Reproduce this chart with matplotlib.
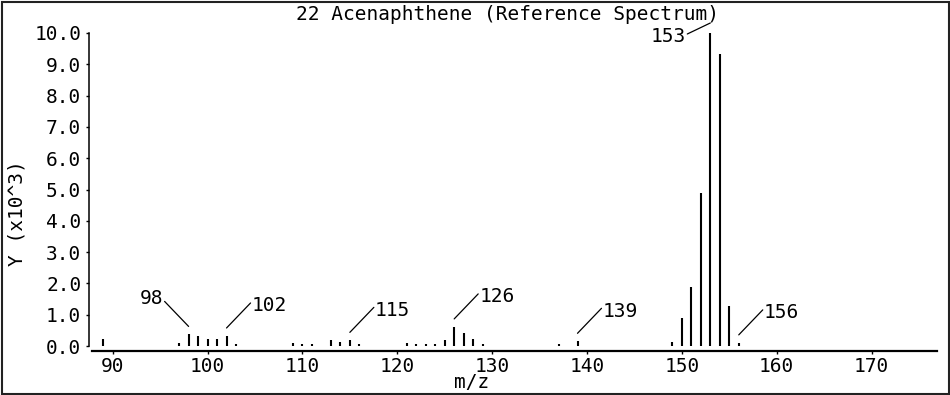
import matplotlib
matplotlib.use("Agg")
import matplotlib.pyplot as plt
from matplotlib.transforms import offset_copy
from matplotlib.patches import Rectangle

# ---- data (intensity in units of 10^3) ----
mz = [89, 97, 98, 99, 100, 101, 102, 103,
      109, 110, 111, 113, 114, 115, 116,
      121, 122, 123, 124, 125, 126, 127, 128, 129,
      137, 139,
      149, 150, 151, 152, 153, 154, 155, 156]
intensity = [0.22, 0.10, 0.37, 0.32, 0.21, 0.21, 0.32, 0.06,
             0.08, 0.07, 0.07, 0.18, 0.13, 0.18, 0.06,
             0.08, 0.07, 0.05, 0.06, 0.18, 0.61, 0.40, 0.23, 0.05,
             0.06, 0.15,
             0.12, 0.91, 1.89, 4.88, 10.0, 9.32, 1.28, 0.10]
labeled_mz = [98, 102, 115, 126, 139, 153, 156]
x_ticks = [90, 100, 110, 120, 130, 140, 150, 160, 170]
y_ticks = [0, 1, 2, 3, 4, 5, 6, 7, 8, 9, 10]
title = "22 Acenaphthene (Reference Spectrum)"
xlabel = "m/z"
ylabel = "Y (x10^3)"

FONT = "DejaVu Sans Mono"
FS = 14
W, H = 950, 395

fig = plt.figure(figsize=(W / 100, H / 100), dpi=100)
fig.patch.set_facecolor("white")
ax = fig.add_axes([89 / W, (H - 346) / H, (937 - 89) / W, (346 - 33) / H])

ax.vlines(mz, 0, intensity, colors="black", linewidth=1.5)

ax.set_xlim(87.5, 176.9)
ax.set_ylim(0, 10)

for s in ("top", "right"):
    ax.spines[s].set_visible(False)
ax.spines["left"].set_linewidth(1.1)
ax.spines["left"].set_bounds(0, 10)
ax.spines["bottom"].set_linewidth(1.6)
ax.spines["bottom"].set_position(("outward", 3.6))
ax.spines["bottom"].set_bounds(87.82, 176.9)

ax.set_xticks(x_ticks)
ax.set_xticklabels([str(t) for t in x_ticks], fontfamily=FONT, fontsize=FS)
ax.set_yticks(y_ticks)
ax.set_yticklabels(["%.1f" % t for t in y_ticks], fontfamily=FONT, fontsize=FS)
ax.tick_params(axis="x", direction="out", length=2.5, width=1.0, pad=1.5)
ax.tick_params(axis="y", direction="out", length=2.5, width=1.0, pad=3)

# annotations
lookup = dict(zip(mz, intensity))
for m in labeled_mz:
    h = lookup[m]
    if m == 153:
        tr = offset_copy(ax.transData, fig=fig, x=0, y=10, units="dots")
        ax.annotate("", xy=(m, h), xycoords=tr, xytext=(-23, -11),
                    textcoords="offset pixels",
                    arrowprops=dict(arrowstyle="-", lw=0.9, color="black",
                                    shrinkA=0, shrinkB=0))
        ax.annotate(str(m), xy=(m, h), xycoords=tr, xytext=(-24, -14),
                    textcoords="offset pixels", ha="right", va="center",
                    fontfamily=FONT, fontsize=FS, annotation_clip=False)
        continue
    tr = offset_copy(ax.transData, fig=fig, x=0, y=8, units="dots")
    sign = -1 if m == 98 else 1
    ax.annotate("", xy=(m, h), xycoords=tr, xytext=(sign * 24, 25),
                textcoords="offset pixels",
                arrowprops=dict(arrowstyle="-", lw=0.9, color="black",
                                shrinkA=0, shrinkB=0))
    ax.annotate(str(m), xy=(m, h), xycoords=tr,
                xytext=(sign * 25, 25 - (3 if sign > 0 else -3)),
                textcoords="offset pixels",
                ha="left" if sign > 0 else "right", va="center",
                fontfamily=FONT, fontsize=FS, annotation_clip=False)

fig.text(507 / W, 1 - 15 / H, title, ha="center", va="center",
         fontfamily=FONT, fontsize=FS)
fig.text(472 / W, 1 - 383 / H, xlabel, ha="center", va="center",
         fontfamily=FONT, fontsize=FS)
fig.text(17 / W, 1 - 213 / H, ylabel, ha="center", va="center",
         rotation=90, fontfamily=FONT, fontsize=FS)

fig.patches.append(Rectangle((1.5 / W, 1.5 / H), (W - 3) / W, (H - 3) / H,
                             transform=fig.transFigure, fill=False,
                             edgecolor="#222222", linewidth=1.5))

fig.savefig("out.png", dpi=100)
